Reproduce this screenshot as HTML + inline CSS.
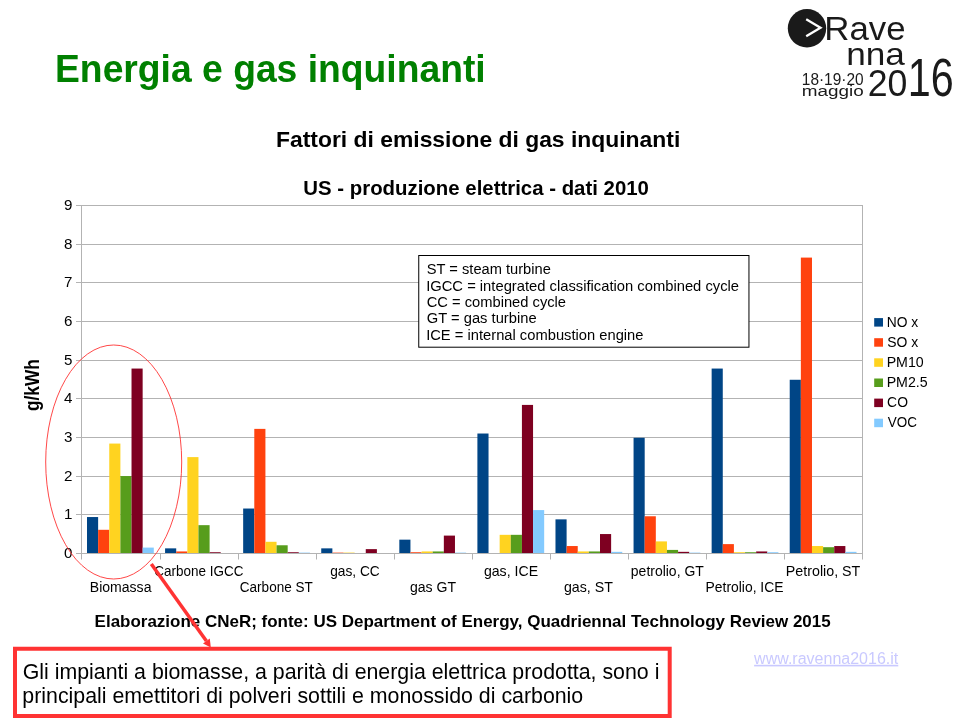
<!DOCTYPE html>
<html><head><meta charset="utf-8"><title>Energia e gas inquinanti</title>
<style>html,body{margin:0;padding:0;background:#fff}svg{display:block}text{font-family:"Liberation Sans",Arial,sans-serif}</style></head><body>
<svg width="960" height="720" viewBox="0 0 960 720">
<rect width="960" height="720" fill="#fff"/>
<circle cx="807" cy="28.3" r="19.2" fill="#1a1a1a"/>
<path d="M806.2 19.3 L820.5 27.7 L806.2 36.3" fill="none" stroke="#fff" stroke-width="2.3"/>
<g stroke="#b3b3b3" stroke-width="1" fill="none">
<line x1="76" y1="553.5" x2="863" y2="553.5"/>
<line x1="76" y1="514.5" x2="863" y2="514.5"/>
<line x1="76" y1="476.5" x2="863" y2="476.5"/>
<line x1="76" y1="437.5" x2="863" y2="437.5"/>
<line x1="76" y1="398.5" x2="863" y2="398.5"/>
<line x1="76" y1="360.5" x2="863" y2="360.5"/>
<line x1="76" y1="321.5" x2="863" y2="321.5"/>
<line x1="76" y1="282.5" x2="863" y2="282.5"/>
<line x1="76" y1="244.5" x2="863" y2="244.5"/>
<line x1="76" y1="205.5" x2="863" y2="205.5"/>
<line x1="81.5" y1="205" x2="81.5" y2="559.5"/>
<line x1="862.5" y1="205" x2="862.5" y2="559.5"/>
<line x1="160.5" y1="553" x2="160.5" y2="559.5"/>
<line x1="238.5" y1="553" x2="238.5" y2="559.5"/>
<line x1="316.5" y1="553" x2="316.5" y2="559.5"/>
<line x1="394.5" y1="553" x2="394.5" y2="559.5"/>
<line x1="472.5" y1="553" x2="472.5" y2="559.5"/>
<line x1="550.5" y1="553" x2="550.5" y2="559.5"/>
<line x1="628.5" y1="553" x2="628.5" y2="559.5"/>
<line x1="706.5" y1="553" x2="706.5" y2="559.5"/>
<line x1="784.5" y1="553" x2="784.5" y2="559.5"/>
</g>
<g>
<rect x="87.00" y="517.04" width="11.13" height="35.96" fill="#004586"/>
<rect x="98.13" y="529.80" width="11.13" height="23.20" fill="#ff420e"/>
<rect x="109.26" y="443.57" width="11.13" height="109.43" fill="#ffd320"/>
<rect x="120.39" y="476.05" width="11.13" height="76.95" fill="#579d1c"/>
<rect x="131.52" y="368.56" width="11.13" height="184.44" fill="#7e0021"/>
<rect x="142.65" y="547.59" width="11.13" height="5.41" fill="#83caff"/>
<rect x="165.08" y="548.36" width="11.13" height="4.64" fill="#004586"/>
<rect x="176.21" y="551.45" width="11.13" height="1.55" fill="#ff420e"/>
<rect x="187.34" y="457.11" width="11.13" height="95.89" fill="#ffd320"/>
<rect x="198.47" y="525.16" width="11.13" height="27.84" fill="#579d1c"/>
<rect x="209.60" y="552.23" width="11.13" height="0.77" fill="#7e0021"/>
<rect x="243.16" y="508.53" width="11.13" height="44.47" fill="#004586"/>
<rect x="254.29" y="428.88" width="11.13" height="124.12" fill="#ff420e"/>
<rect x="265.42" y="541.79" width="11.13" height="11.21" fill="#ffd320"/>
<rect x="276.55" y="545.27" width="11.13" height="7.73" fill="#579d1c"/>
<rect x="287.68" y="552.23" width="11.13" height="0.77" fill="#7e0021"/>
<rect x="298.81" y="552.61" width="11.13" height="0.39" fill="#83caff"/>
<rect x="321.24" y="548.36" width="11.13" height="4.64" fill="#004586"/>
<rect x="332.37" y="552.61" width="11.13" height="0.39" fill="#ff420e"/>
<rect x="343.50" y="552.61" width="11.13" height="0.39" fill="#ffd320"/>
<rect x="365.76" y="549.13" width="11.13" height="3.87" fill="#7e0021"/>
<rect x="399.32" y="539.66" width="11.13" height="13.34" fill="#004586"/>
<rect x="410.45" y="552.23" width="11.13" height="0.77" fill="#ff420e"/>
<rect x="421.58" y="551.45" width="11.13" height="1.55" fill="#ffd320"/>
<rect x="432.71" y="551.45" width="11.13" height="1.55" fill="#579d1c"/>
<rect x="443.84" y="535.60" width="11.13" height="17.40" fill="#7e0021"/>
<rect x="454.97" y="552.61" width="11.13" height="0.39" fill="#83caff"/>
<rect x="477.40" y="433.52" width="11.13" height="119.48" fill="#004586"/>
<rect x="499.66" y="534.83" width="11.13" height="18.17" fill="#ffd320"/>
<rect x="510.79" y="534.83" width="11.13" height="18.17" fill="#579d1c"/>
<rect x="521.92" y="404.91" width="11.13" height="148.09" fill="#7e0021"/>
<rect x="533.05" y="510.08" width="11.13" height="42.92" fill="#83caff"/>
<rect x="555.48" y="519.36" width="11.13" height="33.64" fill="#004586"/>
<rect x="566.61" y="546.04" width="11.13" height="6.96" fill="#ff420e"/>
<rect x="577.74" y="551.45" width="11.13" height="1.55" fill="#ffd320"/>
<rect x="588.87" y="551.45" width="11.13" height="1.55" fill="#579d1c"/>
<rect x="600.00" y="534.05" width="11.13" height="18.95" fill="#7e0021"/>
<rect x="611.13" y="551.84" width="11.13" height="1.16" fill="#83caff"/>
<rect x="633.56" y="437.77" width="11.13" height="115.23" fill="#004586"/>
<rect x="644.69" y="516.27" width="11.13" height="36.73" fill="#ff420e"/>
<rect x="655.82" y="541.40" width="11.13" height="11.60" fill="#ffd320"/>
<rect x="666.95" y="549.91" width="11.13" height="3.09" fill="#579d1c"/>
<rect x="678.08" y="551.84" width="11.13" height="1.16" fill="#7e0021"/>
<rect x="689.21" y="552.61" width="11.13" height="0.39" fill="#83caff"/>
<rect x="711.64" y="368.56" width="11.13" height="184.44" fill="#004586"/>
<rect x="722.77" y="544.11" width="11.13" height="8.89" fill="#ff420e"/>
<rect x="733.90" y="552.23" width="11.13" height="0.77" fill="#ffd320"/>
<rect x="745.03" y="552.23" width="11.13" height="0.77" fill="#579d1c"/>
<rect x="756.16" y="551.45" width="11.13" height="1.55" fill="#7e0021"/>
<rect x="767.29" y="552.23" width="11.13" height="0.77" fill="#83caff"/>
<rect x="789.72" y="379.77" width="11.13" height="173.23" fill="#004586"/>
<rect x="800.85" y="257.59" width="11.13" height="295.41" fill="#ff420e"/>
<rect x="811.98" y="546.04" width="11.13" height="6.96" fill="#ffd320"/>
<rect x="823.11" y="547.20" width="11.13" height="5.80" fill="#579d1c"/>
<rect x="834.24" y="546.04" width="11.13" height="6.96" fill="#7e0021"/>
<rect x="845.37" y="551.84" width="11.13" height="1.16" fill="#83caff"/>
</g>
<rect x="874.2" y="318.1" width="8.8" height="8.5" fill="#004586"/>
<rect x="874.2" y="338.2" width="8.8" height="8.5" fill="#ff420e"/>
<rect x="874.2" y="358.3" width="8.8" height="8.5" fill="#ffd320"/>
<rect x="874.2" y="378.5" width="8.8" height="8.5" fill="#579d1c"/>
<rect x="874.2" y="398.6" width="8.8" height="8.5" fill="#7e0021"/>
<rect x="874.2" y="418.7" width="8.8" height="8.5" fill="#83caff"/>
<rect x="418.75" y="255.5" width="330.2" height="91.7" fill="#fff" stroke="#000" stroke-width="1"/>
<rect x="15" y="648.75" width="654.7" height="67.25" fill="#fff" stroke="#ff3333" stroke-width="4"/>
<text transform="translate(55.01,81.75) scale(0.9811,1)" font-size="38" font-weight="bold" fill="#008000">Energia e gas inquinanti</text>
<text transform="translate(275.97,146.75) scale(1.0173,1)" font-size="22.5" font-weight="bold" fill="#000">Fattori di emissione di gas inquinanti</text>
<text transform="translate(303.28,194.50) scale(1.0406,1)" font-size="19.6" font-weight="bold" fill="#000">US - produzione elettrica - dati 2010</text>
<text transform="translate(94.61,626.75) scale(1.0354,1)" font-size="16.4" font-weight="bold" fill="#000">Elaborazione CNeR; fonte: US Department of Energy, Quadriennal Technology Review 2015</text>
<text transform="translate(426.83,273.75) scale(1.0115,1)" font-size="14.5" fill="#000">ST = steam turbine</text>
<text transform="translate(426.14,290.50) scale(1.0181,1)" font-size="14.5" fill="#000">IGCC = integrated classification combined cycle</text>
<text transform="translate(426.75,306.75) scale(1.0145,1)" font-size="14.5" fill="#000">CC = combined cycle</text>
<text transform="translate(426.76,323.25) scale(1.0161,1)" font-size="14.5" fill="#000">GT = gas turbine</text>
<text transform="translate(426.14,339.50) scale(1.0164,1)" font-size="14.5" fill="#000">ICE = internal combustion engine</text>
<text transform="translate(886.67,326.65) scale(1.0018,1)" font-size="13.8" fill="#000">NO x</text>
<text transform="translate(887.17,346.80) scale(1.0103,1)" font-size="13.8" fill="#000">SO x</text>
<text transform="translate(886.63,366.95) scale(1.0300,1)" font-size="13.8" fill="#000">PM10</text>
<text transform="translate(886.63,387.10) scale(1.0298,1)" font-size="13.8" fill="#000">PM2.5</text>
<text transform="translate(887.09,407.25) scale(1.0086,1)" font-size="13.8" fill="#000">CO</text>
<text transform="translate(887.74,427.40) scale(0.9757,1)" font-size="13.8" fill="#000">VOC</text>
<text transform="translate(89.85,592.00) scale(1.0177,1)" font-size="13.8" fill="#000">Biomassa</text>
<text transform="translate(154.31,575.75) scale(0.9786,1)" font-size="13.8" fill="#000">Carbone IGCC</text>
<text transform="translate(239.81,592.00) scale(0.9813,1)" font-size="13.8" fill="#000">Carbone ST</text>
<text transform="translate(330.17,575.75) scale(0.9952,1)" font-size="13.8" fill="#000">gas, CC</text>
<text transform="translate(409.91,592.00) scale(1.0205,1)" font-size="13.8" fill="#000">gas GT</text>
<text transform="translate(483.91,575.75) scale(1.0244,1)" font-size="13.8" fill="#000">gas, ICE</text>
<text transform="translate(563.90,592.00) scale(1.0290,1)" font-size="13.8" fill="#000">gas, ST</text>
<text transform="translate(630.85,575.75) scale(1.0124,1)" font-size="13.8" fill="#000">petrolio, GT</text>
<text transform="translate(705.61,592.00) scale(1.0070,1)" font-size="13.8" fill="#000">Petrolio, ICE</text>
<text transform="translate(785.83,575.75) scale(1.0336,1)" font-size="13.8" fill="#000">Petrolio, ST</text>
<text transform="translate(22.68,679.25) scale(1.0002,1)" font-size="21.33" fill="#000">Gli impianti a biomasse, a parità di energia elettrica prodotta, sono i</text>
<text transform="translate(22.37,702.50) scale(1.0005,1)" font-size="21.33" fill="#000">principali emettitori di polveri sottili e monossido di carbonio</text>
<text transform="translate(754.12,663.80) scale(1.0007,1)" font-size="16" fill="#c9c9ff" text-decoration="underline">www.ravenna2016.it</text>
<text transform="translate(824.34,40.20) scale(1.0677,1)" font-size="32.6" fill="#1a1a1a">Rave</text>
<text transform="translate(846.17,64.60) scale(1.0918,1)" font-size="32.2" fill="#1a1a1a">nna</text>
<text transform="translate(867.71,96.20) scale(0.9911,1)" font-size="36" fill="#1a1a1a">20</text>
<text transform="translate(907.85,96.20) scale(0.7697,1)" font-size="53.7" fill="#1a1a1a">16</text>
<text transform="translate(801.82,84.60) scale(0.9354,1)" font-size="16.5" fill="#1a1a1a">18·19·20</text>
<text transform="translate(801.74,96.20) scale(1.2786,1)" font-size="14.8" fill="#1a1a1a">maggio</text>
<text transform="translate(63.99,557.90) scale(1.0984,1)" font-size="13.8" fill="#000">0</text>
<text transform="translate(63.99,518.90) scale(1.0984,1)" font-size="13.8" fill="#000">1</text>
<text transform="translate(63.99,480.90) scale(1.0984,1)" font-size="13.8" fill="#000">2</text>
<text transform="translate(63.99,441.90) scale(1.0984,1)" font-size="13.8" fill="#000">3</text>
<text transform="translate(63.99,402.90) scale(1.0984,1)" font-size="13.8" fill="#000">4</text>
<text transform="translate(63.99,364.90) scale(1.0984,1)" font-size="13.8" fill="#000">5</text>
<text transform="translate(63.99,325.90) scale(1.0984,1)" font-size="13.8" fill="#000">6</text>
<text transform="translate(63.99,286.90) scale(1.0984,1)" font-size="13.8" fill="#000">7</text>
<text transform="translate(63.99,248.90) scale(1.0984,1)" font-size="13.8" fill="#000">8</text>
<text transform="translate(63.99,209.90) scale(1.0984,1)" font-size="13.8" fill="#000">9</text>
<text transform="translate(39,411.1) scale(1.21,1) rotate(-90)" font-size="17.3" font-weight="bold" fill="#000">g/kWh</text>
<ellipse cx="113.7" cy="462" rx="68" ry="117" fill="none" stroke="#ff3333" stroke-width="0.9"/>
<line x1="151.3" y1="564" x2="206.4" y2="641" stroke="#ff3333" stroke-width="3.5"/>
<path d="M210.8 647.4 L203 643.6 L209.8 638.5 Z" fill="#ff3333"/>
</svg></body></html>
